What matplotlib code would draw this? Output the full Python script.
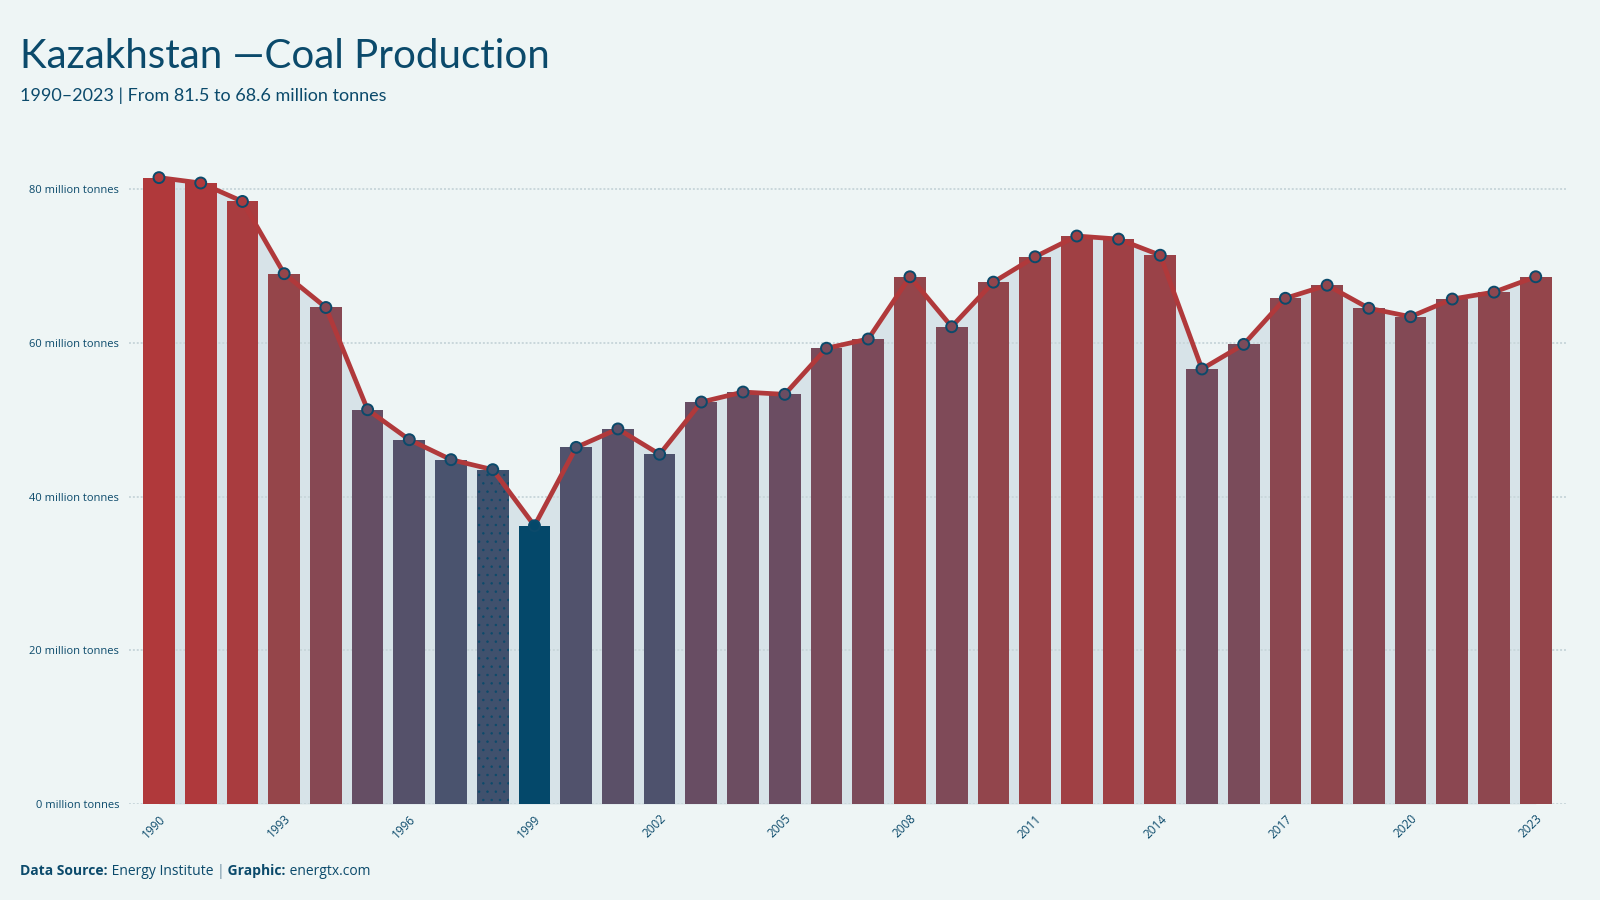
import matplotlib
matplotlib.use("Agg")
import matplotlib.pyplot as plt
from matplotlib.colors import LinearSegmentedColormap, Normalize
import numpy as np

# ---- data ----
years = list(range(1990, 2024))
production = [81.5, 80.8, 78.4, 69.0, 64.6, 51.3, 47.4, 44.8, 43.5, 36.2,
              46.4, 48.8, 45.5, 52.3, 53.6, 53.3, 59.3, 60.5, 68.6, 62.1,
              67.9, 71.2, 73.9, 73.5, 71.4, 56.6, 59.8, 65.8, 67.5, 64.5,
              63.4, 65.7, 66.6, 68.6]
tick_years = list(range(1990, 2024, 3))
y_ticks = [0, 20, 40, 60, 80]
y_tick_labels = [f"{v} million tonnes" for v in y_ticks]
title = "Kazakhstan \u2014Coal Production"
subtitle = "1990\u20132023 | From 81.5 to 68.6 million tonnes"

# ---- style ----
BG = "#eef5f5"
NAVY = "#0b4a6b"
RED = "#b0393b"
FILL = "#d7e3e8"
GRID = "#c9d7db"

cmap = LinearSegmentedColormap.from_list("bluered", [
    (0.0, (4/255, 72/255, 106/255)),
    (0.19, (75/255, 83/255, 110/255)),
    (0.35, (104/255, 77/255, 99/255)),
    (0.57, (127/255, 74/255, 88/255)),
    (0.715, (148/255, 69/255, 75/255)),
    (1.0, (176/255, 57/255, 59/255)),
])
norm = Normalize(vmin=min(production), vmax=max(production))
colors = [cmap(norm(v)) for v in production]

COND = ["Lato", "DejaVu Sans"]
BODY = ["Open Sans", "DejaVu Sans"]

fig = plt.figure(figsize=(16, 9), dpi=100, facecolor=BG)
ax = fig.add_axes([0.0806, 0.1067, 0.898, 0.7173], facecolor=BG)

ax.set_xlim(1989.28, 2023.72)
ax.set_ylim(0, 84)

ax.fill_between(years, production, 0, color=FILL, zorder=1, linewidth=0)
for y in y_ticks:
    ax.axhline(y, color=GRID, linewidth=1.4, linestyle=(0, (1, 1)), zorder=2)

plt.rcParams['hatch.linewidth'] = 0.5
min_idx = production.index(min(production))
for i, (yr, v) in enumerate(zip(years, production)):
    hatch = '..' if i == min_idx - 1 else None
    ax.bar(yr, v, width=0.76, color=colors[i], edgecolor=NAVY if hatch else colors[i],
           linewidth=0, hatch=hatch, zorder=3)

ax.plot(years, production, color=RED, linewidth=3.4, zorder=4, solid_joinstyle='round')
ax.scatter(years, production, s=62, c=colors, edgecolors=NAVY, linewidths=1.4, zorder=5)

for s in ax.spines.values():
    s.set_visible(False)
ax.set_yticks(y_ticks)
ax.set_yticklabels(y_tick_labels, fontsize=8, color=NAVY, family=BODY)
ax.set_xticks(tick_years)
ax.set_xticklabels([str(y) for y in tick_years], fontsize=8.5, color=NAVY, family=BODY,
                   rotation=45, ha='right', va='top', rotation_mode='anchor')
ax.tick_params(axis='both', length=0)
ax.tick_params(axis='y', pad=7)
ax.tick_params(axis='x', pad=6)

fig.text(0.0125, 0.925, title, fontsize=29, color=NAVY, family=COND, va='baseline', ha='left')
fig.text(0.0125, 0.888, subtitle, fontsize=13, color=NAVY, family=COND, va='baseline', ha='left')

# caption with mixed weights
parts = [("Data Source:", "bold", NAVY), (" Energy Institute ", "normal", NAVY),
         ("|", "normal", "#6f8fa3"), (" Graphic:", "bold", NAVY), (" energtx.com", "normal", NAVY)]
fig.canvas.draw()
renderer = fig.canvas.get_renderer()
x = 20
for txt, wt, col in parts:
    t = fig.text(x / 1600, 0.028, txt, fontsize=10, fontweight=wt, color=col,
                 family=BODY, va='baseline', ha='left')
    bb = t.get_window_extent(renderer=renderer)
    x += bb.width

fig.savefig("out.png", dpi=100, facecolor=BG)
